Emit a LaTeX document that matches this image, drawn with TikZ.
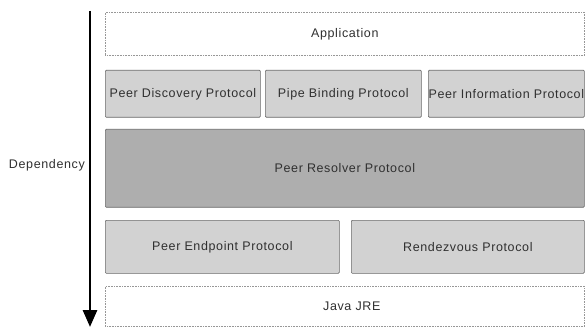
\documentclass[tikz,border=0pt]{standalone}
\usepackage{fontspec}
\setmainfont{Liberation Sans}[LetterSpace=5]
\usetikzlibrary{arrows.meta}
\definecolor{lightfill}{HTML}{D2D2D2}
\definecolor{darkfill}{HTML}{AEAEAE}
\definecolor{edgegray}{HTML}{6A6A6A}
\definecolor{txt}{HTML}{303030}
\begin{document}
\begin{tikzpicture}[x=1pt,y=-1pt,
  every node/.style={font=\fontsize{12.5}{14}\selectfont, text=txt},
  plainbox/.style={draw=edgegray!70, densely dotted, line width=0.6pt, fill=white, inner sep=0pt, anchor=north west},
  protobox/.style={draw=edgegray, line width=0.7pt, fill=lightfill, inner sep=0pt, anchor=north west, rounded corners=1pt},
  resolverbox/.style={protobox, fill=darkfill},
  deparrow/.style={line width=2.9pt, -{Triangle[length=17pt,width=14pt]}}
]
\useasboundingbox (0,0) rectangle (586,331);
\node[plainbox, minimum width=479pt, minimum height=43pt] (app) at (105,12) {Application};
\node[protobox, minimum width=155pt, minimum height=47pt] (disc) at (105,70) {Peer Discovery Protocol};
\node[protobox, minimum width=156pt, minimum height=47pt] (pipe) at (265,70) {Pipe Binding Protocol};
\node[protobox, minimum width=156pt, minimum height=47pt] (info) at (428,70) {Peer Information Protocol};
\node[resolverbox, minimum width=479pt, minimum height=78pt] (res) at (105,129) {Peer Resolver Protocol};
\node[protobox, minimum width=234pt, minimum height=53pt] (endp) at (105,220) {Peer Endpoint Protocol};
\node[protobox, minimum width=233pt, minimum height=53pt] (rdv) at (351,220) {Rendezvous Protocol};
\node[plainbox, minimum width=479pt, minimum height=40pt] (jre) at (105,286) {\hspace{14pt}Java JRE};
\coordinate (atop) at (90,11);
\coordinate (abot) at (90,327);
\draw[deparrow] (atop) -- (abot);
\node[anchor=east, inner sep=0pt] (dep) at (85,165) {Dependency};
\end{tikzpicture}
\end{document}
